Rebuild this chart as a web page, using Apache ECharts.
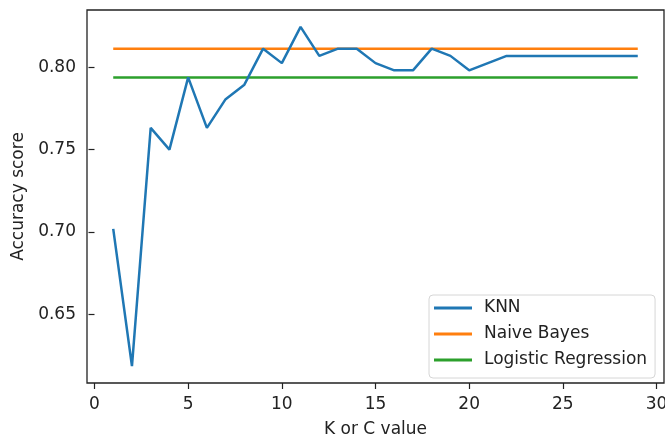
<!DOCTYPE html>
<html>
<head>
<meta charset="utf-8">
<script src="https://cdn.jsdelivr.net/npm/echarts@6/dist/echarts.min.js"></script>
<style>
  html, body { margin: 0; padding: 0; background: #fff; }
  #chart { width: 665px; height: 438px; }
</style>
</head>
<body>
<div id="chart"></div>
<script>
// K (or C) values
const kValues = [1, 2, 3, 4, 5, 6, 7, 8, 9, 10, 11, 12, 13, 14, 15, 16, 17, 18, 19, 20, 21, 22, 23, 24, 25, 26, 27, 28, 29];
// KNN accuracy for each K
const knnScores = [0.7018, 0.6184, 0.7632, 0.7500, 0.7939, 0.7632, 0.7807, 0.7895, 0.8114, 0.8026,
                   0.8246, 0.8070, 0.8114, 0.8114, 0.8026, 0.7982, 0.7982, 0.8114, 0.8070, 0.7982,
                   0.8026, 0.8070, 0.8070, 0.8070, 0.8070, 0.8070, 0.8070, 0.8070, 0.8070];
// Constant scores of the other models
const naiveBayesScore = 0.8114;
const logisticScore = 0.7939;
// Tick labels
const xTicks = [0, 5, 10, 15, 20, 25, 30];
const yTicks = [0.65, 0.70, 0.75, 0.80];

const knnData = kValues.map((k, i) => [k, knnScores[i]]);
const nbData = kValues.map(k => [k, naiveBayesScore]);
const lrData = kValues.map(k => [k, logisticScore]);

const FONT = 'DejaVu Sans';
const FS = 17;

const chart = echarts.init(document.getElementById('chart'), null, { renderer: 'canvas' });
chart.setOption({
  animation: false,
  backgroundColor: '#ffffff',
  textStyle: { fontFamily: FONT },
  grid: {
    left: 87, right: 1, top: 10, bottom: 55,
    outerBoundsMode: 'none',
    containLabel: false,
    show: true, borderColor: '#222', borderWidth: 1.3, backgroundColor: 'transparent'
  },
  xAxis: {
    type: 'value',
    min: -0.4, max: 30.4,
    name: 'K or C value',
    nameLocation: 'middle',
    nameGap: 38,
    nameTextStyle: { fontFamily: FONT, fontSize: FS, color: '#222' },
    axisLine: { show: false },
    splitLine: { show: false },
    axisTick: { show: true, length: 6, lineStyle: { color: '#222', width: 1.2 }, customValues: xTicks },
    axisLabel: { fontFamily: FONT, fontSize: FS, color: '#222', margin: 13, customValues: xTicks, formatter: v => String(v) }
  },
  yAxis: {
    type: 'value',
    min: 0.6081, max: 0.8349,
    name: 'Accuracy score',
    nameLocation: 'middle',
    nameGap: 60,
    nameTextStyle: { fontFamily: FONT, fontSize: FS, color: '#222' },
    axisLine: { show: false },
    splitLine: { show: false },
    axisTick: { show: true, length: 6, lineStyle: { color: '#222', width: 1.2 }, customValues: yTicks },
    axisLabel: { fontFamily: FONT, fontSize: FS, color: '#222', margin: 11, customValues: yTicks, formatter: v => v.toFixed(2) }
  },
  legend: {
    orient: 'vertical',
    left: 429, top: 295,
    padding: [4, 8, 9, 5],
    itemGap: 8,
    itemWidth: 38, itemHeight: 3,
    icon: 'rect',
    backgroundColor: '#fff',
    borderColor: '#d6d6d6', borderWidth: 1, borderRadius: 4,
    textStyle: { fontFamily: FONT, fontSize: FS, color: '#222', lineHeight: 18, padding: [0, 0, 0, 7] },
    data: ['KNN', 'Naive Bayes', 'Logistic Regression']
  },
  series: [
    { name: 'KNN', type: 'line', data: knnData, showSymbol: false, symbol: 'none',
      lineStyle: { color: '#1f77b4', width: 2.5 }, itemStyle: { color: '#1f77b4' }, z: 3 },
    { name: 'Naive Bayes', type: 'line', data: nbData, showSymbol: false, symbol: 'none',
      lineStyle: { color: '#ff7f0e', width: 2.5 }, itemStyle: { color: '#ff7f0e' }, z: 2 },
    { name: 'Logistic Regression', type: 'line', data: lrData, showSymbol: false, symbol: 'none',
      lineStyle: { color: '#2ca02c', width: 2.5 }, itemStyle: { color: '#2ca02c' }, z: 2 }
  ]
});
</script>
</body>
</html>
